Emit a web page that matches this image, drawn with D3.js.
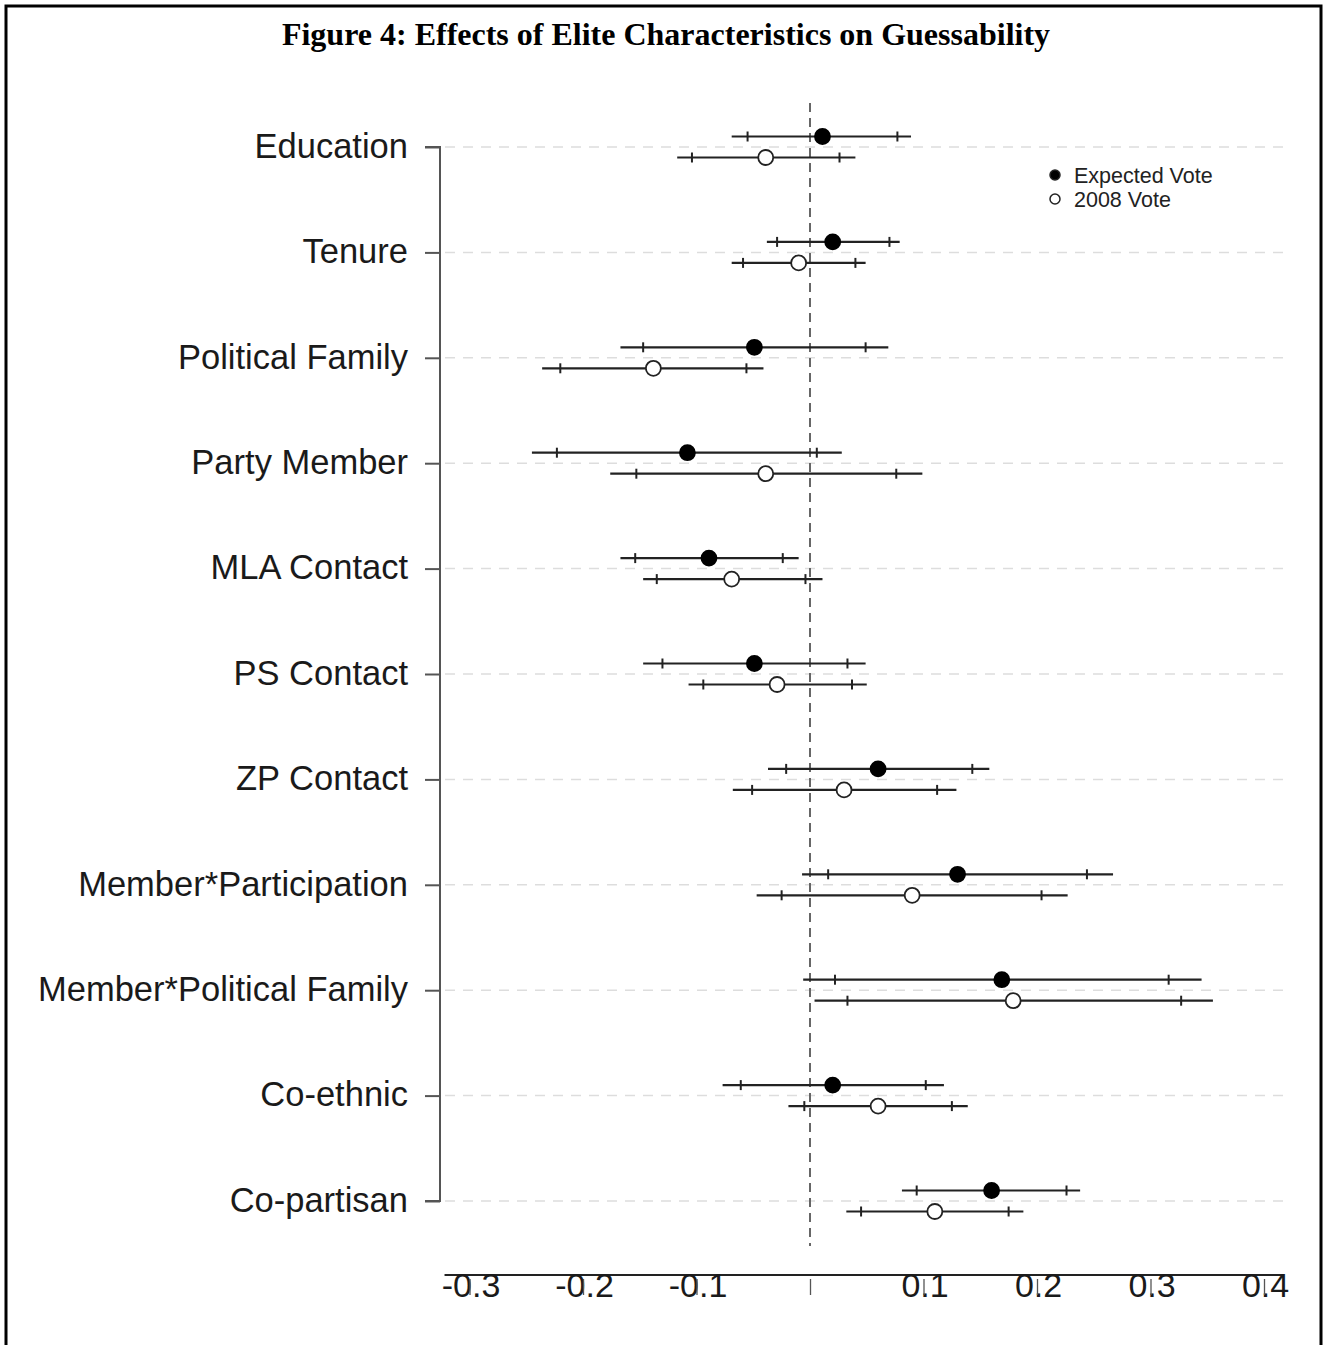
<!DOCTYPE html>
<html>
<head>
<meta charset="utf-8">
<script src="https://cdn.jsdelivr.net/npm/d3@7"></script>
<style>
  html, body { margin: 0; padding: 0; background: #fff; }
  svg { display: block; }
</style>
</head>
<body>
<svg id="chart" width="1327" height="1345"></svg>
<script>
// ---- DATA ----
const categories = ["Education", "Tenure", "Political Family", "Party Member", "MLA Contact",
  "PS Contact", "ZP Contact", "Member*Participation", "Member*Political Family", "Co-ethnic", "Co-partisan"];

// Expected Vote: point estimate, 90% CI, 95% CI
const expectedEst  = [0.011, 0.020, -0.049, -0.108, -0.089, -0.049, 0.060, 0.130, 0.169, 0.020, 0.160];
const expectedLo90 = [-0.055, -0.029, -0.147, -0.223, -0.154, -0.130, -0.021, 0.016, 0.022, -0.061, 0.094];
const expectedHi90 = [0.077, 0.070, 0.049, 0.006, -0.024, 0.033, 0.143, 0.244, 0.316, 0.102, 0.226];
const expectedLo95 = [-0.069, -0.038, -0.167, -0.245, -0.167, -0.147, -0.037, -0.007, -0.006, -0.077, 0.081];
const expectedHi95 = [0.089, 0.079, 0.069, 0.028, -0.010, 0.049, 0.158, 0.267, 0.345, 0.118, 0.238];

// 2008 Vote
const vote2008Est  = [-0.039, -0.010, -0.138, -0.039, -0.069, -0.029, 0.030, 0.090, 0.179, 0.060, 0.110];
const vote2008Lo90 = [-0.104, -0.059, -0.220, -0.153, -0.135, -0.094, -0.051, -0.025, 0.033, -0.005, 0.045];
const vote2008Hi90 = [0.026, 0.040, -0.056, 0.076, -0.004, 0.037, 0.112, 0.204, 0.327, 0.125, 0.175];
const vote2008Lo95 = [-0.117, -0.069, -0.236, -0.176, -0.147, -0.107, -0.068, -0.047, 0.004, -0.019, 0.032];
const vote2008Hi95 = [0.040, 0.049, -0.041, 0.099, 0.011, 0.050, 0.129, 0.227, 0.355, 0.139, 0.188];

const xTicks = [-0.3, -0.2, -0.1, 0, 0.1, 0.2, 0.3, 0.4];
const xTickLabels = ["-0.3", "-0.2", "-0.1", "", "0.1", "0.2", "0.3", "0.4"];
const seriesNames = ["Expected Vote", "2008 Vote"];
const title = "Figure 4: Effects of Elite Characteristics on Guessability";

// ---- BUILD ----
const series = [
  { name: seriesNames[0], est: expectedEst, lo90: expectedLo90, hi90: expectedHi90, lo95: expectedLo95, hi95: expectedHi95, filled: true, offset: -10.5 },
  { name: seriesNames[1], est: vote2008Est, lo90: vote2008Lo90, hi90: vote2008Hi90, lo95: vote2008Lo95, hi95: vote2008Hi95, filled: false, offset: 10.5 }
];

const svg = d3.select("#chart");
const x = d3.scaleLinear().domain([0, 0.1]).range([810, 923.5]);
const y = d3.scalePoint().domain(categories).range([147, 1201]);

// frame
svg.append("path")
  .attr("d", "M6,1345 L6,6 L1321,6 L1321,1345")
  .attr("fill", "none").attr("stroke", "#000").attr("stroke-width", 3);

// title
svg.append("text")
  .attr("x", 666).attr("y", 45)
  .attr("text-anchor", "middle")
  .attr("font-family", "'Liberation Serif', 'Times New Roman', serif")
  .attr("font-weight", "bold").attr("font-size", 32)
  .attr("fill", "#000")
  .text(title);

// gridlines
svg.append("g").selectAll("line").data(categories).join("line")
  .attr("x1", 445).attr("x2", 1290)
  .attr("y1", d => y(d)).attr("y2", d => y(d))
  .attr("stroke", "#ddd").attr("stroke-width", 1.5).attr("stroke-dasharray", "10,8");

// zero line
svg.append("line")
  .attr("x1", x(0)).attr("x2", x(0)).attr("y1", 103).attr("y2", 1246)
  .attr("stroke", "#666").attr("stroke-width", 2).attr("stroke-dasharray", "9,6");

// y axis
const yAxis = d3.axisLeft(y).tickSize(15).tickPadding(17);
const gy = svg.append("g").attr("transform", "translate(440,0)").call(yAxis);
gy.select(".domain").attr("stroke", "#555").attr("stroke-width", 2)
  .attr("d", `M-15,${y(categories[0])}H0V${y(categories[categories.length-1])}H-15`);
gy.selectAll(".tick line").attr("stroke", "#555").attr("stroke-width", 2);
gy.selectAll(".tick text")
  .attr("font-family", "'Liberation Sans', Arial, sans-serif")
  .attr("font-size", 34.5).attr("fill", "#1a1a1a").attr("dy", "0.30em");

// x axis
const xAxis = d3.axisBottom(x).tickValues(xTicks)
  .tickFormat((d, i) => xTickLabels[i]).tickSize(18);
const gx = svg.append("g").attr("transform", "translate(0,1275)").call(xAxis);
gx.select(".domain").attr("stroke", "#222").attr("stroke-width", 2)
  .attr("d", `M${x(-0.322)},0H${x(0.417)}`);
gx.selectAll(".tick line").attr("stroke", "#555").attr("stroke-width", 1.3).attr("y1", 4).attr("y2", 20);
gx.selectAll(".tick text")
  .attr("font-family", "'Liberation Sans', Arial, sans-serif")
  .attr("font-size", 34).attr("fill", "#1a1a1a")
  .attr("y", 22).attr("dy", 0)
  .attr("transform", "translate(1,0)");
gx.selectAll(".tick line").raise();

// error bars and points
series.forEach(s => {
  const g = svg.append("g");
  const rows = categories.map((c, i) => ({ c, i, yy: y(c) + s.offset }));
  g.selectAll("line.ci95").data(rows).join("line").attr("class", "ci95")
    .attr("x1", d => x(s.lo95[d.i])).attr("x2", d => x(s.hi95[d.i]))
    .attr("y1", d => d.yy).attr("y2", d => d.yy)
    .attr("stroke", "#222").attr("stroke-width", 2.2);
  const ticks = [];
  rows.forEach(d => { ticks.push({ v: s.lo90[d.i], yy: d.yy }); ticks.push({ v: s.hi90[d.i], yy: d.yy }); });
  g.selectAll("line.ci90").data(ticks).join("line").attr("class", "ci90")
    .attr("x1", d => x(d.v)).attr("x2", d => x(d.v))
    .attr("y1", d => d.yy - 5).attr("y2", d => d.yy + 5)
    .attr("stroke", "#222").attr("stroke-width", 2);
  g.selectAll("circle").data(rows).join("circle")
    .attr("cx", d => x(s.est[d.i])).attr("cy", d => d.yy).attr("r", 7.5)
    .attr("fill", s.filled ? "#000" : "#fff")
    .attr("stroke", s.filled ? "#000" : "#222").attr("stroke-width", 1.8);
});

// legend
const leg = svg.append("g");
series.forEach((s, i) => {
  const ly = 175 + i * 24;
  leg.append("circle").attr("cx", 1055).attr("cy", ly).attr("r", 5)
    .attr("fill", s.filled ? "#000" : "#fff").attr("stroke", "#222").attr("stroke-width", 1.5);
  leg.append("text").attr("x", 1074).attr("y", ly).attr("dy", "0.35em")
    .attr("font-family", "'Liberation Sans', Arial, sans-serif")
    .attr("font-size", 21.5).attr("fill", "#222").text(s.name);
});
</script>
</body>
</html>
